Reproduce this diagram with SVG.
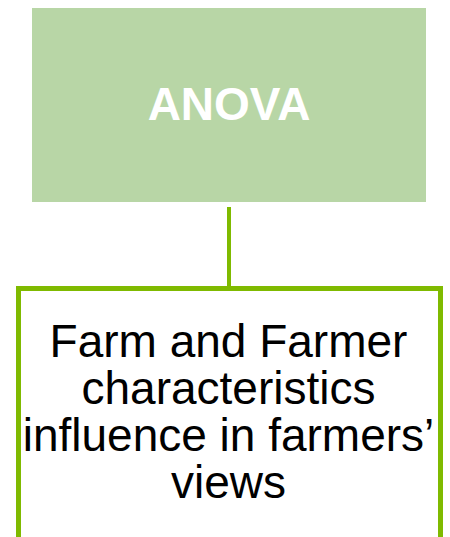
<svg xmlns="http://www.w3.org/2000/svg" width="450" height="537" viewBox="0 0 450 537">
<style>
.t{font-family:"Liberation Sans",Arial,sans-serif;text-anchor:middle}
.h{font-size:46px;font-weight:bold;fill:#ffffff}
.b{font-size:46px;fill:#000000}
.conn{stroke:#7fba00;stroke-width:4;fill:none}
</style>
<rect width="450" height="537" fill="#ffffff"/>
<g id="connectors">
<line class="conn" x1="229" y1="207" x2="229" y2="289"/>
</g>
<g id="node-anova">
<rect x="32" y="8" width="394" height="194" fill="#b8d6a6"/>
<text class="t h" x="229" y="120">ANOVA</text>
</g>
<g id="node-farm">
<rect x="18.5" y="288.5" width="422" height="280" fill="#ffffff" stroke="#7fba00" stroke-width="5"/>
<text class="t b" x="228.5" y="357">Farm and Farmer</text>
<text class="t b" x="228.5" y="404">characteristics</text>
<text class="t b" x="228.5" y="451">influence in farmers’</text>
<text class="t b" x="228.5" y="498">views</text>
</g>
</svg>
